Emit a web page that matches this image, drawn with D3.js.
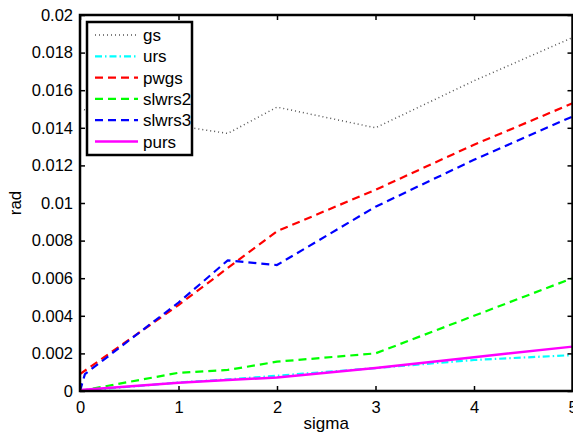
<!DOCTYPE html>
<html>
<head>
<meta charset="utf-8">
<script src="https://cdn.jsdelivr.net/npm/d3@7/dist/d3.min.js"></script>
<style>
  html, body { margin: 0; padding: 0; background: #fff; }
  svg { display: block; }
  text { font-family: "Liberation Sans", Arial, Helvetica, sans-serif; }
</style>
</head>
<body>
<svg id="chart" width="573" height="437"></svg>
<script>
// ---- data ----
const sigma      = [0, 1, 1.5, 2, 3, 4, 5];
const sigmaS3    = [0, 0.05, 1, 1.5, 2, 3, 4, 5];
const gs     = [0.0150, 0.0141, 0.0137, 0.0151, 0.0140, 0.0165, 0.0188];
const urs    = [0.0000, 0.00045, 0.00062, 0.00081, 0.00122, 0.00165, 0.00191];
const pwgs   = [0.0009, 0.00457, 0.00654, 0.0085, 0.0107, 0.0131, 0.0153];
const slwrs2 = [0.0000, 0.00097, 0.00112, 0.00156, 0.0020, 0.0040, 0.0060];
const slwrs3 = [0.0000, 0.0009, 0.0047, 0.00695, 0.0067, 0.0098, 0.0123, 0.0146];
const purs   = [0.00005, 0.00044, 0.00058, 0.00072, 0.00122, 0.0018, 0.00236];

const seriesNames  = ["gs", "urs", "pwgs", "slwrs2", "slwrs3", "purs"];
const seriesColors = ["#555555", "#00ffff", "#ff0000", "#00ff00", "#0000ff", "#ff00ff"];
const seriesDash   = ["1,3", "7,3,1.5,3", "8,5", "8,5", "8,5", null];
const seriesWidth  = [1.5, 2.2, 2.2, 2.2, 2.2, 2.5];
const seriesX      = [sigma, sigma, sigma, sigma, sigmaS3, sigma];
const seriesY      = [gs, urs, pwgs, slwrs2, slwrs3, purs];

const xTicks = [0, 1, 2, 3, 4, 5];
const xTickLabels = ["0", "1", "2", "3", "4", "5"];
const yTicks = [0, 0.002, 0.004, 0.006, 0.008, 0.01, 0.012, 0.014, 0.016, 0.018, 0.02];
const yTickLabels = ["0", "0.002", "0.004", "0.006", "0.008", "0.01", "0.012", "0.014", "0.016", "0.018", "0.02"];

// ---- layout ----
const pL = 80, pR = 572.5, pT = 15, pB = 391;
const svg = d3.select("#chart");
const x = d3.scaleLinear().domain([0, 5]).range([pL, pR]);
const y = d3.scaleLinear().domain([0, 0.02]).range([pB, pT]);
const fs = 16.5, fsL = 17;

svg.append("defs").append("clipPath").attr("id", "clip")
  .append("rect").attr("x", pL).attr("y", pT).attr("width", pR - pL).attr("height", pB - pT);

// lines
const lineGen = d3.line().x(d => x(d[0])).y(d => y(d[1]));
const plot = svg.append("g").attr("clip-path", "url(#clip)");
seriesNames.forEach((name, i) => {
  const pts = seriesX[i].map((sx, j) => [sx, seriesY[i][j]]);
  plot.append("path")
    .datum(pts)
    .attr("d", lineGen)
    .attr("fill", "none")
    .attr("stroke", seriesColors[i])
    .attr("stroke-width", seriesWidth[i])
    .attr("stroke-dasharray", seriesDash[i])
    .attr("stroke-linejoin", "round");
});

// axes (ticks inward, MATLAB box)
function styleAxis(g, hideLabels) {
  g.select(".domain").remove();
  g.selectAll(".tick line").attr("stroke", "#000").attr("stroke-width", 1.5);
  g.selectAll(".tick text").attr("fill", "#000").style("font-size", fs + "px");
  if (hideLabels) g.selectAll(".tick text").remove();
}
svg.append("g").attr("transform", `translate(0,${pB})`)
  .call(d3.axisBottom(x).tickValues(xTicks).tickFormat((d, i) => xTickLabels[i]).tickSizeInner(-5).tickSizeOuter(0).tickPadding(10))
  .call(g => styleAxis(g, false));
svg.append("g").attr("transform", `translate(0,${pT})`)
  .call(d3.axisTop(x).tickValues(xTicks).tickSizeInner(-5).tickSizeOuter(0))
  .call(g => styleAxis(g, true));
svg.append("g").attr("transform", `translate(${pL},0)`)
  .call(d3.axisLeft(y).tickValues(yTicks).tickFormat((d, i) => yTickLabels[i]).tickSizeInner(-5).tickSizeOuter(0).tickPadding(7))
  .call(g => styleAxis(g, false));
svg.append("g").attr("transform", `translate(${pR},0)`)
  .call(d3.axisRight(y).tickValues(yTicks).tickSizeInner(-5).tickSizeOuter(0))
  .call(g => styleAxis(g, true));

svg.append("rect").attr("x", pL).attr("y", pT).attr("width", pR - pL).attr("height", pB - pT)
  .attr("fill", "none").attr("stroke", "#000").attr("stroke-width", 2.5);

// axis labels
svg.append("text").attr("x", (pL + pR) / 2).attr("y", 429).attr("text-anchor", "middle")
  .style("font-size", fsL + "px").text("sigma");
svg.append("text").attr("transform", `translate(21,${(pT + pB) / 2}) rotate(-90)`).attr("text-anchor", "middle")
  .style("font-size", fsL + "px").text("rad");

// legend
const lg = svg.append("g");
lg.append("rect").attr("x", 87).attr("y", 22).attr("width", 105).attr("height", 133)
  .attr("fill", "#fff").attr("stroke", "#000").attr("stroke-width", 2.5);
seriesNames.forEach((name, i) => {
  const ly = 35 + i * 21.3;
  lg.append("line").attr("x1", 95).attr("x2", 138).attr("y1", ly).attr("y2", ly)
    .attr("stroke", seriesColors[i]).attr("stroke-width", seriesWidth[i])
    .attr("stroke-dasharray", seriesDash[i]);
  lg.append("text").attr("x", 143).attr("y", ly + 6).style("font-size", fsL + "px").text(name);
});
</script>
</body>
</html>
